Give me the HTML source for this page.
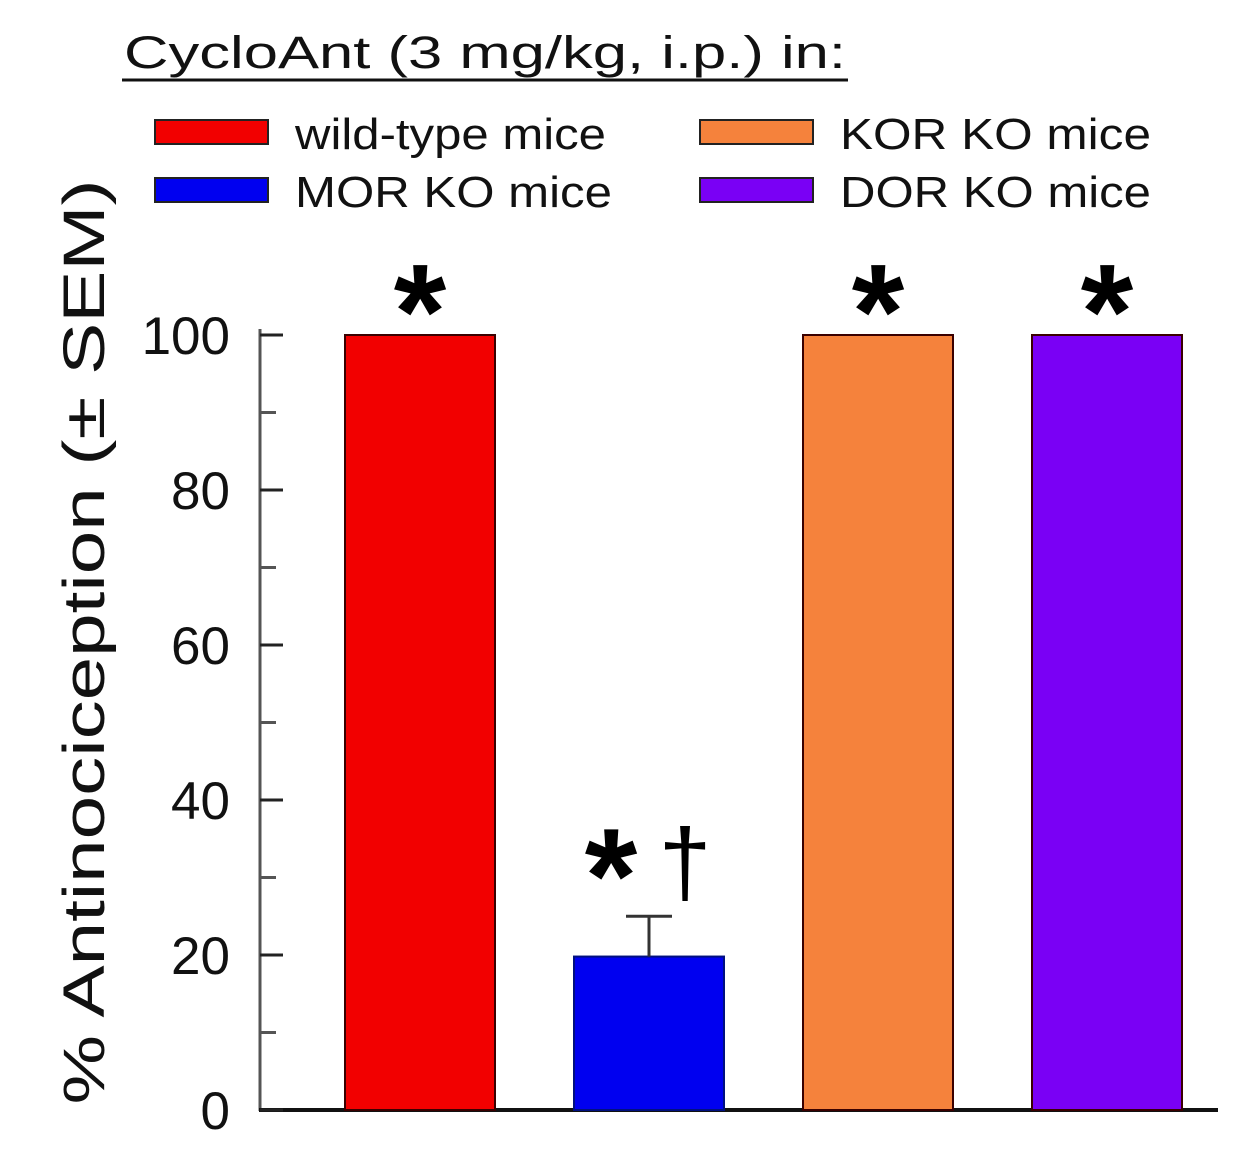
<!DOCTYPE html>
<html><head><meta charset="utf-8"><style>
body{margin:0;background:#fff}
svg text{font-family:"Liberation Sans",sans-serif}
</style></head><body>
<svg width="1245" height="1158" viewBox="0 0 1245 1158">
<text x="124" y="68" font-size="45" textLength="722" lengthAdjust="spacingAndGlyphs" fill="#111">CycloAnt (3 mg/kg, i.p.) in:</text>
<line x1="122" y1="80" x2="848" y2="80" stroke="#111" stroke-width="3"/>
<g id="legend"></g>
<text transform="translate(104,642) rotate(-90)" text-anchor="middle" font-size="58" textLength="925" lengthAdjust="spacingAndGlyphs" fill="#111">% Antinociception (± SEM)</text>
<g id="axes"></g>
<g id="bars"></g>
</svg>
<script>
const categories=["wild-type mice","MOR KO mice","KOR KO mice","DOR KO mice"];
const values=[100,19.8,100,100];
const errors=[0,5.2,0,0];
const colors=["#f20000","#0000f0","#f5823c","#7a00f5"];
const annotations=["*","*†","*","*"];
const yTicks=[0,20,40,60,80,100];
const ns="http://www.w3.org/2000/svg";
function y(v){return 1110-v*7.75;}
function mk(t,a,p){const e=document.createElementNS(ns,t);for(const k in a)e.setAttribute(k,a[k]);p.appendChild(e);return e;}
const axes=document.getElementById('axes'),bars=document.getElementById('bars'),leg=document.getElementById('legend');
let ax=mk('line',{x1:260,y1:y(100)-6,x2:260,y2:1111,stroke:'#555','stroke-width':3},axes);


let xl=mk('line',{x1:259,y1:1110,x2:1218,y2:1110,stroke:'#111','stroke-width':4},axes);


for(let v=0;v<=100;v+=10){
 const major=v%20===0;
 const t=mk('line',{x1:260,y1:y(v),x2:major?283:276,y2:y(v),stroke:major?'#222':'#555','stroke-width':3},axes);
 
 
}
yTicks.forEach(v=>{
 const t=mk('text',{x:230,y:y(v)+19,'text-anchor':'end','font-size':53,fill:'#111'},axes);
 t.textContent=v;
 
 
});
const x0=345,step=229,bw=150;
categories.forEach((c,i)=>{
 const x=x0+i*step;
 const r=mk('rect',{x:x,y:y(values[i]),width:bw,height:1110-y(values[i]),fill:colors[i],stroke:i===1?'#001080':'#3a0000','stroke-width':2},bars);
 
 
 let top=y(values[i]);
 if(errors[i]>0){
  const cx=x+bw/2,ye=y(values[i]+errors[i]);
  const e=mk('path',{d:`M${cx} ${top}V${ye}M${cx-23} ${ye}H${cx+23}`,stroke:'#333','stroke-width':3,fill:'none'},bars);
  
  
  top=ye;
 }
 const star=mk('text',{x:errors[i]>0?x+bw/2-38:x+bw/2,y:errors[i]>0?top+6:top+23,'text-anchor':'middle','font-size':135,'font-weight':'bold',fill:'#000'},bars);
 star.textContent='*';
 
 
 if(annotations[i].indexOf('†')>=0){
  const d=mk('text',{x:x+bw/2+36,y:top-22,'text-anchor':'middle','font-size':95,fill:'#000'},bars);
  d.textContent='†';
  
  
 }
 const col=(i===0||i===1)?155:700, row=(i===0||i===2)?120:178;
 const sw=mk('rect',{x:col,y:row,width:113,height:24,fill:colors[i],stroke:'#222','stroke-width':2},leg);
 
 
 const lt=mk('text',{x:col+140,y:row+29,'font-size':44,fill:'#111',textLength:i===1?317:311,lengthAdjust:'spacingAndGlyphs'},leg);
 lt.textContent=c;
 
 
});
</script>
</body></html>
